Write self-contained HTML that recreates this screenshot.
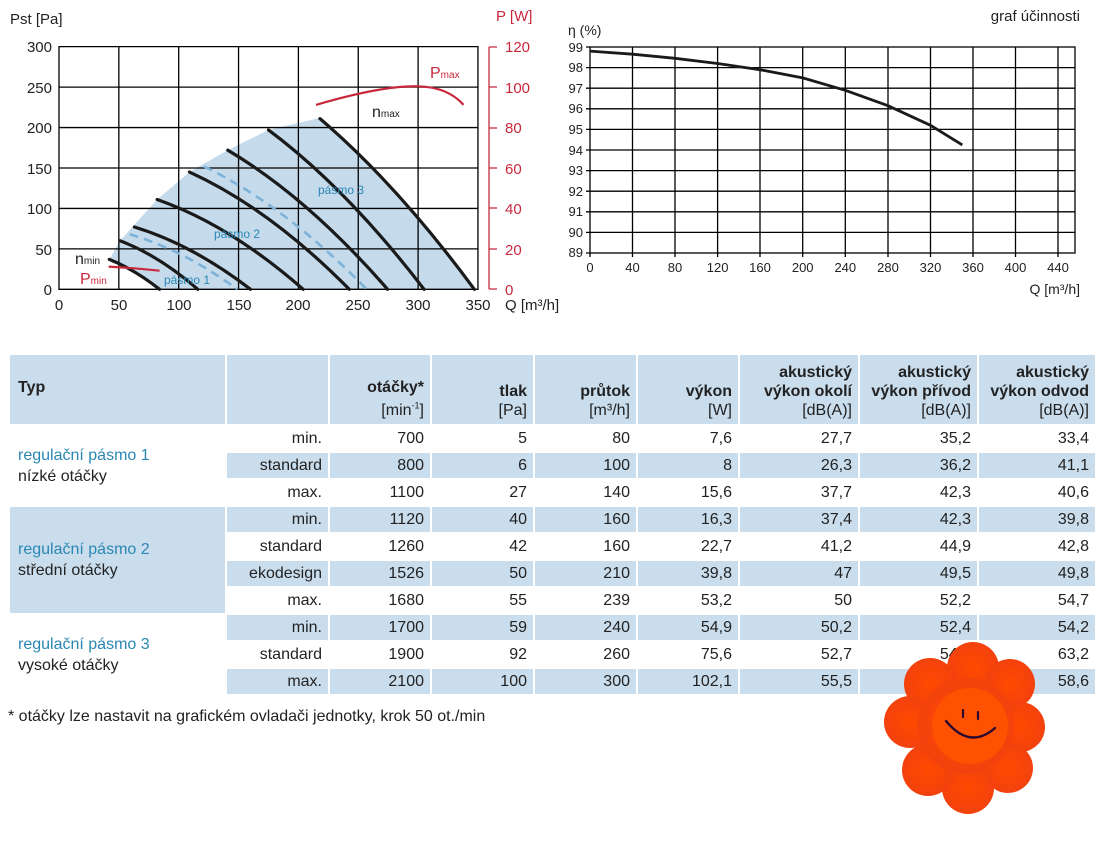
<!DOCTYPE html>
<html><head><meta charset="utf-8"><style>
body{margin:0;width:1102px;height:850px;background:#fff;position:relative;overflow:hidden;font-family:"Liberation Sans",sans-serif;color:#222}
svg{position:absolute;left:0;top:0}
table{position:absolute;left:8px;top:353px;border-collapse:collapse;table-layout:fixed;font-size:16px}
td{border:2px solid #fff;height:23px;padding:0 6px;text-align:right;white-space:nowrap;line-height:18px}
tr.r td{height:25px}
.b{background:#cadded}
.h td{height:65px;vertical-align:bottom;padding-bottom:4px;background:#cadded;font-weight:bold;line-height:19px}
.h td span{font-weight:normal}
td.g{text-align:left;padding-left:8px;line-height:21px}
.bl{color:#2a87b3}
#fn{position:absolute;left:8px;top:708px;font-size:16px}
</style></head><body>
<svg width="1102" height="850" font-family="Liberation Sans, sans-serif">
<g transform="translate(59,289.3) scale(1.197,-0.8088)">
<path d="M42,37 L51,60 L63,80 L82,111 L109,145 L141,172 L175,197 L218,212 Q282.5,129.6 347,0 L84,0 Q63,24.7 42,37 Z" fill="#c5dbec"/>
<g stroke="#000" stroke-width="1.3" fill="none">
<path vector-effect="non-scaling-stroke" d="M0,0 H350 V300 H0 Z"/>
<path vector-effect="non-scaling-stroke" d="M50,0V300M100,0V300M150,0V300M200,0V300M250,0V300M300,0V300M0,50H350M0,100H350M0,150H350M0,200H350M0,250H350"/>
</g>
<g stroke="#1a1a1a" stroke-width="3.2" fill="none" stroke-linecap="round">
<path vector-effect="non-scaling-stroke" d="M42,37 Q63,24.7 84,0"/>
<path vector-effect="non-scaling-stroke" d="M51,60 Q83.5,41.7 116,0"/>
<path vector-effect="non-scaling-stroke" d="M63,77 Q111.5,55.2 160,0"/>
<path vector-effect="non-scaling-stroke" d="M82,111 Q143,79.2 204,0"/>
<path vector-effect="non-scaling-stroke" d="M109,145 Q175.75,100 242.5,0"/>
<path vector-effect="non-scaling-stroke" d="M141,172 Q207.75,113.6 274.5,0"/>
<path vector-effect="non-scaling-stroke" d="M175,197 Q240,125.2 305,0"/>
<path vector-effect="non-scaling-stroke" d="M218,211 Q282.5,129.6 347,0"/>
</g>
<g stroke="#7fb2d8" stroke-width="2.6" fill="none" stroke-dasharray="9,6">
<path vector-effect="non-scaling-stroke" d="M59,68 Q104,48.7 149,0"/>
<path vector-effect="non-scaling-stroke" d="M121,152 Q189,103.3 257,0"/>
</g>
<g stroke="#c8283c" stroke-width="2.2" fill="none">
<path vector-effect="non-scaling-stroke" d="M214.7,228 Q270,252 300,251 Q325,250 338,228"/>
<path vector-effect="non-scaling-stroke" d="M41.5,28 Q65,26 84,23"/>
</g>
</g>
<g font-size="15" fill="#222" text-anchor="end">
<text x="52" y="52">300</text><text x="52" y="93">250</text><text x="52" y="133">200</text><text x="52" y="174">150</text><text x="52" y="214">100</text><text x="52" y="255">50</text><text x="52" y="295">0</text>
</g>
<g font-size="15" fill="#222" text-anchor="middle">
<text x="59" y="310">0</text><text x="119" y="310">50</text><text x="179" y="310">100</text><text x="239" y="310">150</text><text x="298" y="310">200</text><text x="358" y="310">250</text><text x="418" y="310">300</text><text x="478" y="310">350</text>
</g>
<text x="10" y="24" font-size="15" fill="#222">Pst [Pa]</text>
<text x="505" y="310" font-size="15" fill="#222">Q [m³/h]</text>
<text x="496" y="21" font-size="15" fill="#c8283c">P [W]</text>
<g stroke="#c8283c" stroke-width="1.3"><path d="M489,47V289M489,47h8M489,87h8M489,128h8M489,168h8M489,208h8M489,249h8M489,289h8"/></g>
<g font-size="15" fill="#c8283c">
<text x="505" y="52">120</text><text x="505" y="93">100</text><text x="505" y="133">80</text><text x="505" y="174">60</text><text x="505" y="214">40</text><text x="505" y="255">20</text><text x="505" y="295">0</text>
</g>
<text x="430" y="78" font-size="16" fill="#c8283c">P<tspan font-size="10">max</tspan></text>
<text x="372" y="117" font-size="16" fill="#222">n<tspan font-size="10">max</tspan></text>
<text x="75" y="264" font-size="16" fill="#222">n<tspan font-size="10">min</tspan></text>
<text x="80" y="284" font-size="16" fill="#c8283c">P<tspan font-size="10">min</tspan></text>
<g font-size="12" fill="#2a87b3">
<text x="318" y="194">pásmo 3</text><text x="214" y="238">pásmo 2</text><text x="164" y="284">pásmo 1</text>
</g>
<g stroke="#000" stroke-width="1.3" fill="none">
<rect x="590" y="47" width="485" height="206"/>
<path d="M632.5,47V253M675,47V253M717.6,47V253M760,47V253M802.7,47V253M845.3,47V253M888,47V253M930.5,47V253M973,47V253M1015.5,47V253M1058,47V253"/>
<path d="M590,67.6H1075M590,88.2H1075M590,108.8H1075M590,129.4H1075M590,150H1075M590,170.6H1075M590,191.2H1075M590,211.8H1075M590,232.4H1075"/>
<path d="M586,47h4M586,67.6h4M586,88.2h4M586,108.8h4M586,129.4h4M586,150h4M586,170.6h4M586,191.2h4M586,211.8h4M586,232.4h4M586,253h4M590,253v4M632.5,253v4M675,253v4M717.6,253v4M760,253v4M802.7,253v4M845.3,253v4M888,253v4M930.5,253v4M973,253v4M1015.5,253v4M1058,253v4"/>
</g>
<polyline points="590,51.1 632.5,54.2 675,58.3 717.6,63.5 760,69.7 802.7,77.9 845.3,90.3 888,105.7 930.5,125.3 962.3,144.9" fill="none" stroke="#1a1a1a" stroke-width="2.8" stroke-linejoin="round"/>
<g font-size="13" fill="#222" text-anchor="end">
<text x="583" y="52">99</text><text x="583" y="72">98</text><text x="583" y="93">97</text><text x="583" y="113">96</text><text x="583" y="134">95</text><text x="583" y="155">94</text><text x="583" y="175">93</text><text x="583" y="196">92</text><text x="583" y="216">91</text><text x="583" y="237">90</text><text x="583" y="257">89</text>
</g>
<g font-size="13" fill="#222" text-anchor="middle">
<text x="590" y="272">0</text><text x="632.5" y="272">40</text><text x="675" y="272">80</text><text x="717.6" y="272">120</text><text x="760" y="272">160</text><text x="802.7" y="272">200</text><text x="845.3" y="272">240</text><text x="888" y="272">280</text><text x="930.5" y="272">320</text><text x="973" y="272">360</text><text x="1015.5" y="272">400</text><text x="1058" y="272">440</text>
</g>
<text x="568" y="35" font-size="14" fill="#222">η (%)</text>
<text x="1080" y="21" font-size="15" fill="#222" text-anchor="end">graf účinnosti</text>
<text x="1080" y="294" font-size="14" fill="#222" text-anchor="end">Q [m³/h]</text>
</svg>

<table>
<colgroup><col style="width:217px"><col style="width:103px"><col style="width:102px"><col style="width:103px"><col style="width:103px"><col style="width:102px"><col style="width:120px"><col style="width:119px"><col style="width:118px"></colgroup>
<tr class="h"><td style="text-align:left;vertical-align:middle;padding-left:8px">Typ</td><td></td><td>otáčky*<br><span>[min<sup style="font-size:9px">-1</sup>]</span></td><td>tlak<br><span>[Pa]</span></td><td>průtok<br><span>[m³/h]</span></td><td>výkon<br><span>[W]</span></td><td>akustický<br>výkon okolí<br><span>[dB(A)]</span></td><td>akustický<br>výkon přívod<br><span>[dB(A)]</span></td><td>akustický<br>výkon odvod<br><span>[dB(A)]</span></td></tr>
<tr class="r"><td class="g" rowspan="3"><span class="bl">regulační pásmo 1</span><br>nízké otáčky</td><td>min.</td><td>700</td><td>5</td><td>80</td><td>7,6</td><td>27,7</td><td>35,2</td><td>33,4</td></tr>
<tr class="r b"><td>standard</td><td>800</td><td>6</td><td>100</td><td>8</td><td>26,3</td><td>36,2</td><td>41,1</td></tr>
<tr class="r"><td>max.</td><td>1100</td><td>27</td><td>140</td><td>15,6</td><td>37,7</td><td>42,3</td><td>40,6</td></tr>
<tr class="r b"><td class="g b" rowspan="4"><span class="bl">regulační pásmo 2</span><br>střední otáčky</td><td>min.</td><td>1120</td><td>40</td><td>160</td><td>16,3</td><td>37,4</td><td>42,3</td><td>39,8</td></tr>
<tr class="r"><td>standard</td><td>1260</td><td>42</td><td>160</td><td>22,7</td><td>41,2</td><td>44,9</td><td>42,8</td></tr>
<tr class="r b"><td>ekodesign</td><td>1526</td><td>50</td><td>210</td><td>39,8</td><td>47</td><td>49,5</td><td>49,8</td></tr>
<tr class="r"><td>max.</td><td>1680</td><td>55</td><td>239</td><td>53,2</td><td>50</td><td>52,2</td><td>54,7</td></tr>
<tr class="r b"><td class="g" style="background:#fff" rowspan="3"><span class="bl">regulační pásmo 3</span><br>vysoké otáčky</td><td>min.</td><td>1700</td><td>59</td><td>240</td><td>54,9</td><td>50,2</td><td>52,4</td><td>54,2</td></tr>
<tr class="r"><td>standard</td><td>1900</td><td>92</td><td>260</td><td>75,6</td><td>52,7</td><td>54,1</td><td>63,2</td></tr>
<tr class="r b"><td>max.</td><td>2100</td><td>100</td><td>300</td><td>102,1</td><td>55,5</td><td>58,3</td><td>58,6</td></tr>
</table>
<div id="fn">* otáčky lze nastavit na grafickém ovladači jednotky, krok 50 ot./min</div>

<svg width="1102" height="850" style="pointer-events:none">
<defs><radialGradient id="pg" cx="50%" cy="50%" r="60%"><stop offset="0" stop-color="#ff4a00"/><stop offset="1" stop-color="#f04010"/></radialGradient></defs>
<g fill="url(#pg)">
<circle cx="973" cy="668" r="26"/><circle cx="1010" cy="684" r="25"/><circle cx="1020" cy="727" r="25"/><circle cx="1008" cy="768" r="25"/>
<circle cx="968" cy="788" r="26"/><circle cx="928" cy="770" r="26"/><circle cx="910" cy="722" r="26"/><circle cx="930" cy="684" r="26"/>
<circle cx="966" cy="726" r="48"/>
</g>
<circle cx="970" cy="726" r="38" fill="#ff5200"/>
<path d="M946,721 Q970,750 995,728" stroke="#2a0a30" stroke-width="2.4" fill="none" stroke-linecap="round"/>
<path d="M963,717v-7M978,719v-7" stroke="#2a0a30" stroke-width="2.2" stroke-linecap="round"/>
</svg>
</body></html>
